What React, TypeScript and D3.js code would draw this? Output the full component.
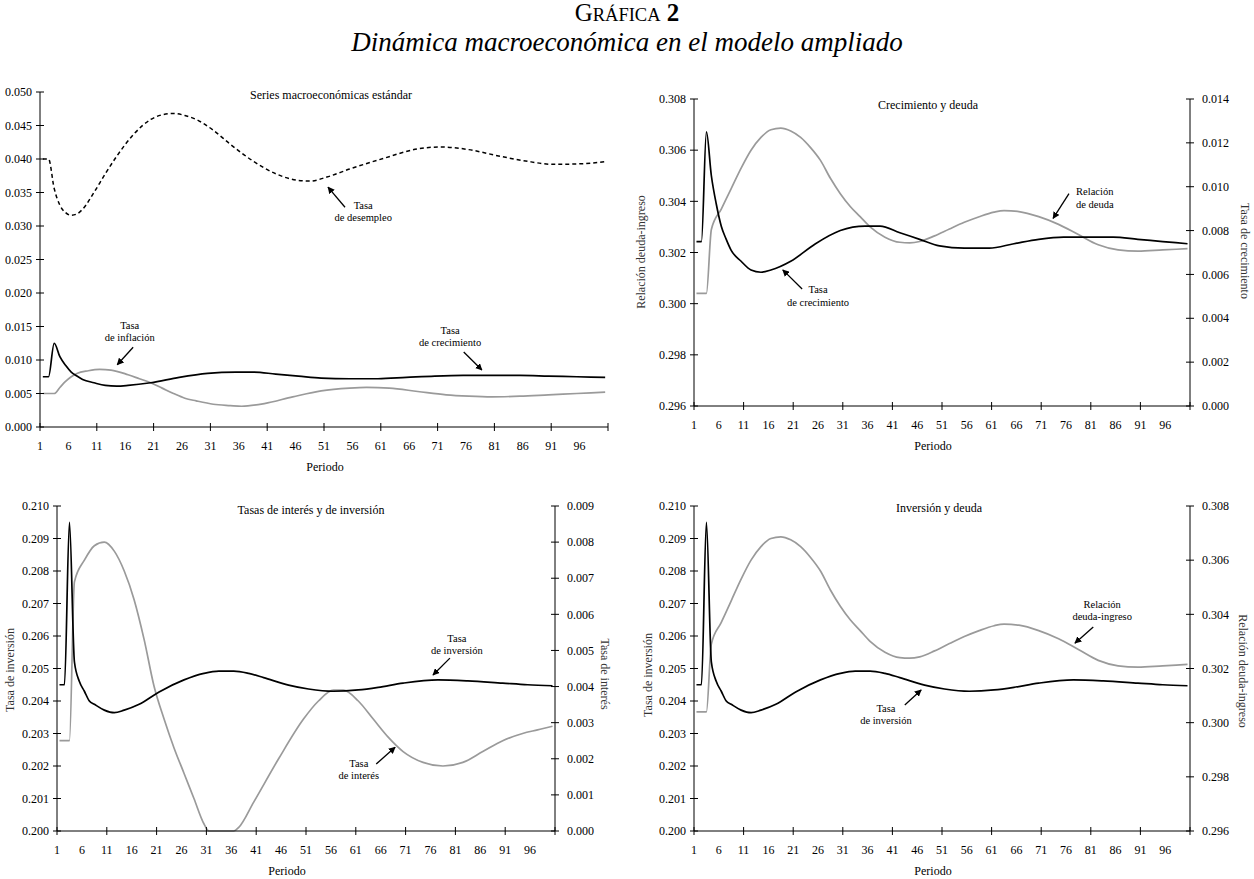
import * as d3 from 'd3';

const FONT = '"Liberation Serif", "Times New Roman", serif';
const GRAY = '#9a9a9a';

// x axis: periods 1..100, one band per period
const periodLabels = [1, 6, 11, 16, 21, 26, 31, 36, 41, 46, 51, 56, 61, 66, 71, 76, 81, 86, 91, 96];
const periodTicks = [0, 10, 20, 30, 40, 50, 60, 70, 80, 90, 100];

// [period, value]
const unemployment: [number, number][] = [
  [1, 0.04], [2, 0.04], [3, 0.0356], [4, 0.0331], [5, 0.032], [6, 0.0316], [7, 0.0318], [8, 0.0325],
  [10, 0.035], [12, 0.0378], [14, 0.0404], [17, 0.0437], [20, 0.0459], [22, 0.0466], [24, 0.0468],
  [26, 0.0465], [28, 0.0459], [31, 0.0443], [34, 0.0422], [38, 0.0397], [42, 0.0378], [46, 0.0368],
  [48, 0.0367], [51, 0.0373], [55, 0.0385], [61, 0.0401], [67, 0.0415], [71, 0.0418], [76, 0.0414],
  [81, 0.0405], [86, 0.0397], [91, 0.0392], [96, 0.0393], [100, 0.0396],
];

const inflation: [number, number][] = [
  [1, 0.005], [2, 0.005], [3, 0.005], [4, 0.0059], [5, 0.0068], [6, 0.0075], [7, 0.008], [9, 0.0084],
  [11, 0.0086], [13, 0.0085], [16, 0.0078], [18, 0.0072], [20, 0.0066], [22, 0.0058], [24, 0.005],
  [26, 0.0043], [28, 0.0039], [31, 0.0034], [34, 0.0032], [36, 0.0031], [40, 0.0035], [45, 0.0045],
  [50, 0.0054], [55, 0.0058], [58, 0.0059], [62, 0.0058], [67, 0.0053], [72, 0.0048], [76, 0.0046],
  [80, 0.0045], [85, 0.0046], [90, 0.0048], [95, 0.005], [100, 0.0052],
];

const growth: [number, number][] = [
  [1, 0.0075], [2, 0.0075], [3, 0.0125], [4, 0.0105], [5, 0.0092], [6, 0.0082], [7, 0.0076], [8, 0.0071],
  [10, 0.0066], [12, 0.0062], [14, 0.0061], [16, 0.0062], [20, 0.0066], [25, 0.0074], [30, 0.008],
  [35, 0.0082], [38, 0.0082], [42, 0.0079], [46, 0.0076], [50, 0.0073], [55, 0.0072], [60, 0.0072],
  [65, 0.0074], [70, 0.0076], [75, 0.0077], [80, 0.0077], [85, 0.0077], [90, 0.0076], [95, 0.0075],
  [100, 0.0074],
];

const debtRatio: [number, number][] = [
  [1, 0.3004], [2, 0.3004], [3, 0.3004], [4, 0.3029], [6, 0.3037], [8, 0.3045], [10, 0.3053],
  [12, 0.306], [14, 0.3065], [16, 0.3068], [18, 0.30686], [20, 0.30675], [22, 0.3065], [24, 0.3061],
  [26, 0.3056], [28, 0.3049], [30, 0.3043], [32, 0.3038], [34, 0.3034], [36, 0.303], [39, 0.3026],
  [42, 0.3024], [44, 0.30238], [46, 0.30243], [49, 0.30265], [52, 0.30292], [55, 0.30318], [58, 0.3034],
  [61, 0.30358], [63, 0.30364], [66, 0.3036], [70, 0.3034], [74, 0.3031], [78, 0.3027], [82, 0.3023],
  [86, 0.3021], [90, 0.30205], [95, 0.3021], [100, 0.30215],
];

const investment: [number, number][] = [
  [1, 0.2045], [2, 0.2045], [3, 0.2095], [4, 0.2052], [5, 0.2046], [6, 0.2043], [7, 0.204], [8, 0.2039],
  [10, 0.20372], [12, 0.20364], [14, 0.20372], [17, 0.2039], [21, 0.20428], [26, 0.20465], [30, 0.20485],
  [33, 0.20492], [36, 0.20492], [39, 0.20485], [42, 0.20472], [47, 0.20449], [51, 0.20437], [56, 0.2043],
  [61, 0.20434], [65, 0.20442], [70, 0.20455], [77, 0.20465], [83, 0.20462], [90, 0.20455], [95, 0.2045],
  [100, 0.20447],
];

const interest: [number, number][] = [
  [1, 0.0025], [2, 0.0025], [3, 0.0025], [4, 0.0069], [6, 0.0075], [8, 0.0079], [10, 0.008],
  [12, 0.00775], [14, 0.0072], [16, 0.0064], [18, 0.0053], [20, 0.004], [22, 0.0031], [24, 0.0023],
  [26, 0.0016], [28, 0.0009], [30, 0.0002], [31, 0], [36, 0], [37, 0.0001], [40, 0.0008], [45, 0.002],
  [50, 0.0031], [53, 0.0036], [56, 0.0039], [58, 0.0039], [61, 0.0036], [64, 0.0031], [67, 0.0026],
  [70, 0.0022], [74, 0.0019], [78, 0.0018], [82, 0.0019], [86, 0.0022], [90, 0.0025], [94, 0.0027],
  [97, 0.0028], [100, 0.0029],
];

type Pt = [number, number];
type Series = { data: Pt[]; axis: 'left' | 'right'; color: string; dash?: string };
type Note = { lines: string[]; at: Pt; from: Pt; to: Pt };
type AxisSpec = { domain: [number, number]; step: number; label?: string; labelPos?: Pt };
type PanelSpec = {
  x0: number; x1: number; top: number; bottom: number;
  left: AxisSpec; right?: AxisSpec;
  title: string; titlePos: Pt; xTitleX: number;
  series: Series[]; notes: Note[];
};

const panels: PanelSpec[] = [
  {
    x0: 40, x1: 608, top: 92, bottom: 427,
    left: { domain: [0, 0.05], step: 0.005 },
    title: 'Series macroeconómicas estándar', titlePos: [331, 95], xTitleX: 325,
    series: [
      { data: unemployment, axis: 'left', color: '#000', dash: '4 3' },
      { data: inflation, axis: 'left', color: GRAY },
      { data: growth, axis: 'left', color: '#000' },
    ],
    notes: [
      { lines: ['Tasa', 'de desempleo'], at: [57.4, 0.0331], from: [54.2, 0.0328], to: [51.2, 0.0358] },
      { lines: ['Tasa', 'de inflación'], at: [16.3, 0.0152], from: [16.9, 0.0119], to: [14.1, 0.0093] },
      { lines: ['Tasa', 'de crecimiento'], at: [72.7, 0.0145], from: [75.1, 0.0112], to: [78.3, 0.0085] },
    ],
  },
  {
    x0: 694, x1: 1190, top: 99, bottom: 406,
    left: { domain: [0.296, 0.308], step: 0.002, label: 'Relación deuda-ingreso', labelPos: [641, 252] },
    right: { domain: [0, 0.014], step: 0.002, label: 'Tasa de crecimiento', labelPos: [1245, 251] },
    title: 'Crecimiento y deuda', titlePos: [928, 105], xTitleX: 933,
    series: [
      { data: debtRatio, axis: 'left', color: GRAY },
      { data: growth, axis: 'right', color: '#000' },
    ],
    notes: [
      { lines: ['Relación', 'de deuda'], at: [81.3, 0.30438], from: [76.1, 0.3043], to: [72.9, 0.30333] },
      { lines: ['Tasa', 'de crecimiento'], at: [25.5, 0.30056], from: [22.3, 0.30057], to: [18.4, 0.30132] },
    ],
  },
  {
    x0: 57, x1: 555, top: 506, bottom: 831,
    left: { domain: [0.2, 0.21], step: 0.001, label: 'Tasa de inversión', labelPos: [10, 670] },
    right: { domain: [0, 0.009], step: 0.001, label: 'Tasa de interés', labelPos: [605, 674] },
    title: 'Tasas de interés y de inversión', titlePos: [311, 510], xTitleX: 287,
    series: [
      { data: interest, axis: 'right', color: GRAY },
      { data: investment, axis: 'left', color: '#000' },
    ],
    notes: [
      { lines: ['Tasa', 'de inversión'], at: [80.8, 0.20594], from: [79.4, 0.20532], to: [76, 0.2048] },
      { lines: ['Tasa', 'de interés'], at: [61.1, 0.20209], from: [64.6, 0.20206], to: [68.4, 0.20258] },
    ],
  },
  {
    x0: 694, x1: 1190, top: 506, bottom: 831,
    left: { domain: [0.2, 0.21], step: 0.001, label: 'Tasa de inversión', labelPos: [648, 675] },
    right: { domain: [0.296, 0.308], step: 0.002, label: 'Relación deuda-ingreso', labelPos: [1243, 671] },
    title: 'Inversión y deuda', titlePos: [939, 508], xTitleX: 933,
    series: [
      { data: debtRatio, axis: 'right', color: GRAY },
      { data: investment, axis: 'left', color: '#000' },
    ],
    notes: [
      { lines: ['Relación', 'deuda-ingreso'], at: [82.8, 0.20698], from: [81, 0.20628], to: [77.3, 0.20578] },
      { lines: ['Tasa', 'de inversión'], at: [39.2, 0.20378], from: [43, 0.20388], to: [46.3, 0.20434] },
    ],
  },
];

const fmt = d3.format('.3f');

function tickValues(a: AxisSpec) {
  const n = Math.round((a.domain[1] - a.domain[0]) / a.step);
  return d3.range(n + 1).map((i) => a.domain[0] + i * a.step);
}

function Panel({ spec }: { spec: PanelSpec }) {
  const x = d3.scaleLinear().domain([0, 100]).range([spec.x0, spec.x1]);
  const yL = d3.scaleLinear().domain(spec.left.domain).range([spec.bottom, spec.top]);
  const yR = spec.right
    ? d3.scaleLinear().domain(spec.right.domain).range([spec.bottom, spec.top])
    : yL;

  const lineFor = (s: Series) => {
    const y = s.axis === 'left' ? yL : yR;
    return d3
      .line<Pt>()
      .x((d) => x(d[0] - 0.5))
      .y((d) => y(d[1]))
      .curve(d3.curveMonotoneX)(s.data) as string;
  };

  return (
    <g fontFamily={FONT}>
      <text x={spec.titlePos[0]} y={spec.titlePos[1]} dy="0.35em" textAnchor="middle" fontSize={12}>
        {spec.title}
      </text>

      {spec.series.map((s, i) => (
        <path key={i} d={lineFor(s)} fill="none" stroke={s.color}
          strokeWidth={s.dash ? 1.5 : 1.7} strokeDasharray={s.dash} strokeLinejoin="round" />
      ))}

      {/* left axis */}
      <line x1={spec.x0} x2={spec.x0} y1={spec.top} y2={spec.bottom} stroke="#000" />
      {tickValues(spec.left).map((v) => (
        <g key={v} transform={`translate(${spec.x0},${yL(v)})`}>
          <line x1={-4} x2={4} stroke="#000" />
          <text x={-8} dy="0.35em" textAnchor="end" fontSize={12}>{fmt(v)}</text>
        </g>
      ))}
      {spec.left.label && spec.left.labelPos && (
        <text transform={`translate(${spec.left.labelPos[0]},${spec.left.labelPos[1]}) rotate(-90)`}
          dy="0.35em" textAnchor="middle" fontSize={12} fill="#333">{spec.left.label}</text>
      )}

      {/* right axis */}
      {spec.right && (
        <g>
          <line x1={spec.x1} x2={spec.x1} y1={spec.top} y2={spec.bottom} stroke="#000" />
          {tickValues(spec.right).map((v) => (
            <g key={v} transform={`translate(${spec.x1},${yR(v)})`}>
              <line x1={-4} x2={4} stroke="#000" />
              <text x={12} dy="0.35em" textAnchor="start" fontSize={12}>{fmt(v)}</text>
            </g>
          ))}
          {spec.right.label && spec.right.labelPos && (
            <text transform={`translate(${spec.right.labelPos[0]},${spec.right.labelPos[1]}) rotate(90)`}
              dy="0.35em" textAnchor="middle" fontSize={12} fill="#333">{spec.right.label}</text>
          )}
        </g>
      )}

      {/* x axis */}
      <line x1={spec.x0} x2={spec.x1} y1={spec.bottom} y2={spec.bottom} stroke="#000" />
      {periodTicks.map((t) => (
        <line key={t} x1={x(t)} x2={x(t)} y1={spec.bottom - 4} y2={spec.bottom + 4} stroke="#000" />
      ))}
      {periodLabels.map((p) => (
        <text key={p} x={x(p - 1)} y={spec.bottom + 19} dy="0.35em" textAnchor="middle" fontSize={12}>
          {p}
        </text>
      ))}
      <text x={spec.xTitleX} y={spec.bottom + 40} dy="0.35em" textAnchor="middle" fontSize={12}>
        Periodo
      </text>

      {/* annotations */}
      {spec.notes.map((n, i) => (
        <g key={i}>
          {n.lines.map((l, j) => (
            <text key={j} x={x(n.at[0] - 0.5)} y={yL(n.at[1]) + j * 12.5} dy="0.35em"
              textAnchor="middle" fontSize={10.5}>{l}</text>
          ))}
          <line x1={x(n.from[0] - 0.5)} y1={yL(n.from[1])} x2={x(n.to[0] - 0.5)} y2={yL(n.to[1])}
            stroke="#000" strokeWidth={1.3} markerEnd="url(#arrow)" />
        </g>
      ))}
    </g>
  );
}

export default function App() {
  return (
    <svg width={1254} height={879} style={{ position: 'absolute', left: 0, top: 0, background: '#fff' }}>
      <defs>
        <marker id="arrow" viewBox="0 0 10 10" refX={9} refY={5} markerWidth={7} markerHeight={7}
          markerUnits="userSpaceOnUse" orient="auto">
          <path d="M0,0 L10,5 L0,10 z" fill="#000" />
        </marker>
      </defs>
      <text x={627} y={21} textAnchor="middle" fontFamily={FONT} fontSize={25}>
        <tspan>G</tspan>
        <tspan fontSize={18.5}>RÁFICA</tspan>
        <tspan fontWeight="bold"> 2</tspan>
      </text>
      <text x={627} y={51} textAnchor="middle" fontFamily={FONT} fontSize={27} fontStyle="italic">
        Dinámica macroeconómica en el modelo ampliado
      </text>
      {panels.map((p, i) => (
        <Panel key={i} spec={p} />
      ))}
    </svg>
  );
}
